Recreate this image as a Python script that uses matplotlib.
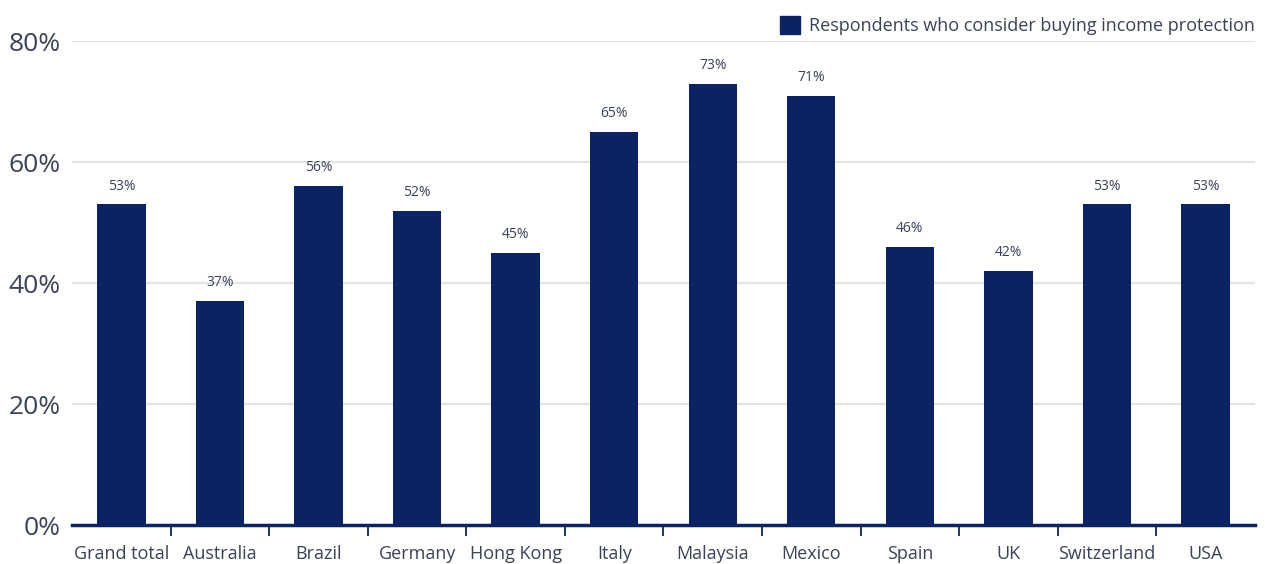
import matplotlib.pyplot as plt
import numpy as np
from matplotlib.patches import Patch

countries = ["Grand total", "Australia", "Brazil", "Germany", "Hong Kong", "Italy",
             "Malaysia", "Mexico", "Spain", "UK", "Switzerland", "USA"]
share = [53, 37, 56, 52, 45, 65, 73, 71, 46, 42, 53, 53]
y_ticks = [0, 20, 40, 60, 80]

NAVY = "#0a2463"
TEXT = "#3b4257"

plt.rcParams["font.family"] = ["Open Sans", "DejaVu Sans"]

fig = plt.figure(figsize=(12.65, 5.64), dpi=100)
ax = fig.add_axes([0.057, 0.069, 0.935, 0.858])

x = np.arange(len(countries))
ax.bar(x, share, width=0.49, color=NAVY, zorder=3)
for xi, v in zip(x, share):
    ax.text(xi, v + 1.8, f"{v}%", ha="center", va="bottom", fontsize=10, color=TEXT)

ax.set_xlim(-0.5, len(countries) - 0.5)
ax.set_ylim(0, 80)
ax.set_yticks(y_ticks, [f"{t}%" for t in y_ticks])
ax.tick_params(axis="y", length=0, labelsize=19, labelcolor=TEXT, pad=8)
ax.grid(True, axis="y", color="#e3e3e3", linewidth=1.5, zorder=0)
ax.set_axisbelow(True)

# ticks sit between categories, labels centred under the bars
ax.set_xticks(x[:-1] + 0.5)
ax.set_xticklabels([])
ax.set_xticks(x, countries, minor=True)
ax.tick_params(axis="x", which="major", length=8, width=1.3, color=NAVY)
ax.tick_params(axis="x", which="minor", length=0, labelsize=13, labelcolor=TEXT, pad=14)

for s in ["top", "right", "left"]:
    ax.spines[s].set_visible(False)
ax.spines["bottom"].set_color(NAVY)
ax.spines["bottom"].set_linewidth(2.5)

fig.legend(handles=[Patch(color=NAVY, label="Respondents who consider buying income protection")],
           loc="upper right", bbox_to_anchor=(1.005, 1.0), frameon=False, fontsize=13,
           labelcolor=TEXT, handlelength=1.1, handleheight=1.1, handletextpad=0.5)

fig.savefig("out.png", dpi=100)
